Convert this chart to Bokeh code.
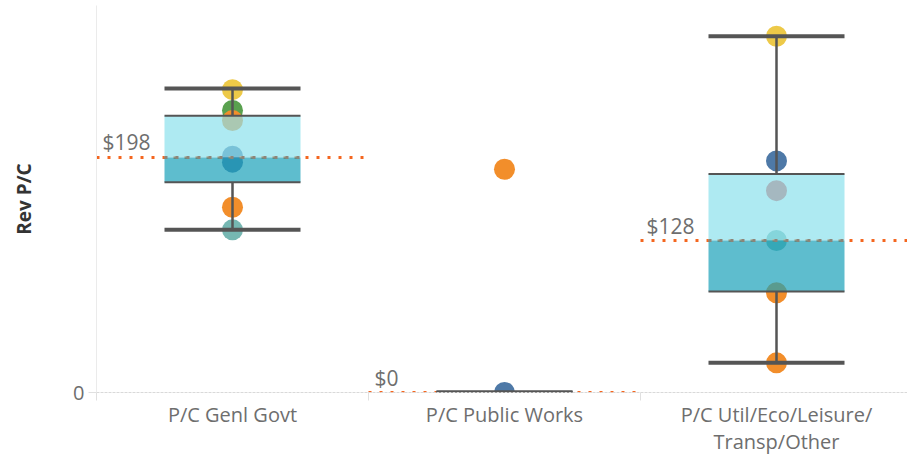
from bokeh.plotting import figure
from bokeh.models import Range1d, FixedTicker
from bokeh.core.properties import value
from bokeh.embed import file_html
from bokeh.resources import INLINE

# ---------------- data ----------------
categories = ["P/C Genl Govt", "P/C Public Works", "P/C Util/Eco/Leisure/\nTransp/Other"]

# box-plot statistics (Rev P/C, $)
lower_whisker = [137, 0, 25]
q1 = [177, 0, 85]
median = [198, 0, 128]
q3 = [233, 0, 184]
upper_whisker = [256, 0, 300]

# individual cities (category index, value, colour)
point_cat = [0, 0, 0, 0, 0, 0, 0, 1, 1, 2, 2, 2, 2, 2, 2]
point_val = [255, 237.5, 229, 199, 194, 156, 137, 188, 0, 300, 195, 170, 128, 84, 25]
point_color = ["#edc948", "#59a14f", "#f28e2b", "#4e79a7", "#4e79a7", "#f28e2b", "#76b7b2",
               "#f28e2b", "#4e79a7",
               "#edc948", "#4e79a7", "#e15759", "#76b7b2", "#f28e2b", "#f28e2b"]

y_ticks = [0]

FONT = "Open Sans"
n = len(categories)
idx = list(range(n))
centers = [i + 0.5 for i in idx]
box_l = [i + 0.25 for i in idx]
box_r = [i + 0.75 for i in idx]

W, H = 907, 457
LEFT, TOP, BOTTOM = 96, 5, 65
PANE = 272
PX_PER_UNIT = 1.1875

p = figure(width=W, height=H, output_backend="svg", toolbar_location=None,
           x_range=Range1d(0, (W - LEFT) / PANE),
           y_range=Range1d(0, (H - TOP - BOTTOM) / PX_PER_UNIT),
           min_border_left=LEFT, min_border_right=0, min_border_top=TOP,
           min_border_bottom=BOTTOM)
p.outline_line_color = None
p.xgrid.grid_line_color = None
p.ygrid.grid_line_color = None
p.background_fill_color = "white"

# points
p.scatter([c + 0.5 for c in point_cat], point_val, size=21, color=point_color, line_color=None)

# median reference line (per pane)
p.segment(x0=idx, x1=[i + 1 for i in idx], y0=median, y1=median,
          line_color="#f4661f", line_width=3, line_dash="3 8")

# boxes
p.quad(left=box_l, right=box_r, bottom=median, top=q3, fill_color="#8be1ec",
       fill_alpha=0.7, line_color=None)
p.quad(left=box_l, right=box_r, bottom=q1, top=median, fill_color="#1aa1b9",
       fill_alpha=0.7, line_color=None)
p.segment(x0=box_l, x1=box_r, y0=median, y1=median,
          line_color="#8c8579", line_width=3, line_dash="3 8")

# box edges
p.segment(x0=box_l, x1=box_r, y0=q3, y1=q3, line_color="#555555", line_width=2)
p.segment(x0=box_l, x1=box_r, y0=q1, y1=q1, line_color="#555555", line_width=2)
# stems
p.segment(x0=centers, x1=centers, y0=q3, y1=upper_whisker, line_color="#555555", line_width=2.5)
p.segment(x0=centers, x1=centers, y0=lower_whisker, y1=q1, line_color="#555555", line_width=2.5)
# caps
p.segment(x0=box_l, x1=box_r, y0=upper_whisker, y1=upper_whisker, line_color="#555555", line_width=4)
p.segment(x0=box_l, x1=box_r, y0=lower_whisker, y1=lower_whisker, line_color="#555555", line_width=4)

# median labels
p.text(x=idx, y=median, text=["$" + str(m) for m in median], x_offset=6, y_offset=-15,
       text_align="left", text_baseline="middle", text_font=value(FONT),
       text_font_size="21px", text_color="#6e6e6e")

# x axis
xa = p.xaxis[0]
xa.ticker = FixedTicker(ticks=centers, minor_ticks=[0, 1, 2, 3])
xa.major_label_overrides = {c: lab for c, lab in zip(centers, categories)}
xa.major_tick_out = 0
xa.major_tick_in = 0
xa.minor_tick_out = 8
xa.minor_tick_in = 0
xa.minor_tick_line_color = "#e0e0e0"
xa.axis_line_color = "#d9d9d9"
xa.axis_line_dash = "3 1"
xa.major_label_standoff = 0
xa.major_label_text_font = FONT
xa.major_label_text_font_size = "20px"
xa.major_label_text_color = "#6e6e6e"
xa.major_label_text_line_height = 1.0

# y axis
ya = p.yaxis[0]
ya.ticker = FixedTicker(ticks=y_ticks)
ya.major_tick_out = 8
ya.major_tick_in = 0
ya.major_tick_line_color = "#e0e0e0"
ya.minor_tick_line_color = None
ya.axis_line_color = "#ebebeb"
ya.major_label_standoff = 4
ya.major_label_text_font = FONT
ya.major_label_text_font_size = "20px"
ya.major_label_text_color = "#6e6e6e"
ya.axis_label = "Rev P/C"
ya.axis_label_text_font = FONT
ya.axis_label_text_font_size = "19px"
ya.axis_label_text_font_style = "bold"
ya.axis_label_text_color = "#333333"
ya.axis_label_standoff = 33

open("out.html", "w").write(file_html(p, INLINE))
